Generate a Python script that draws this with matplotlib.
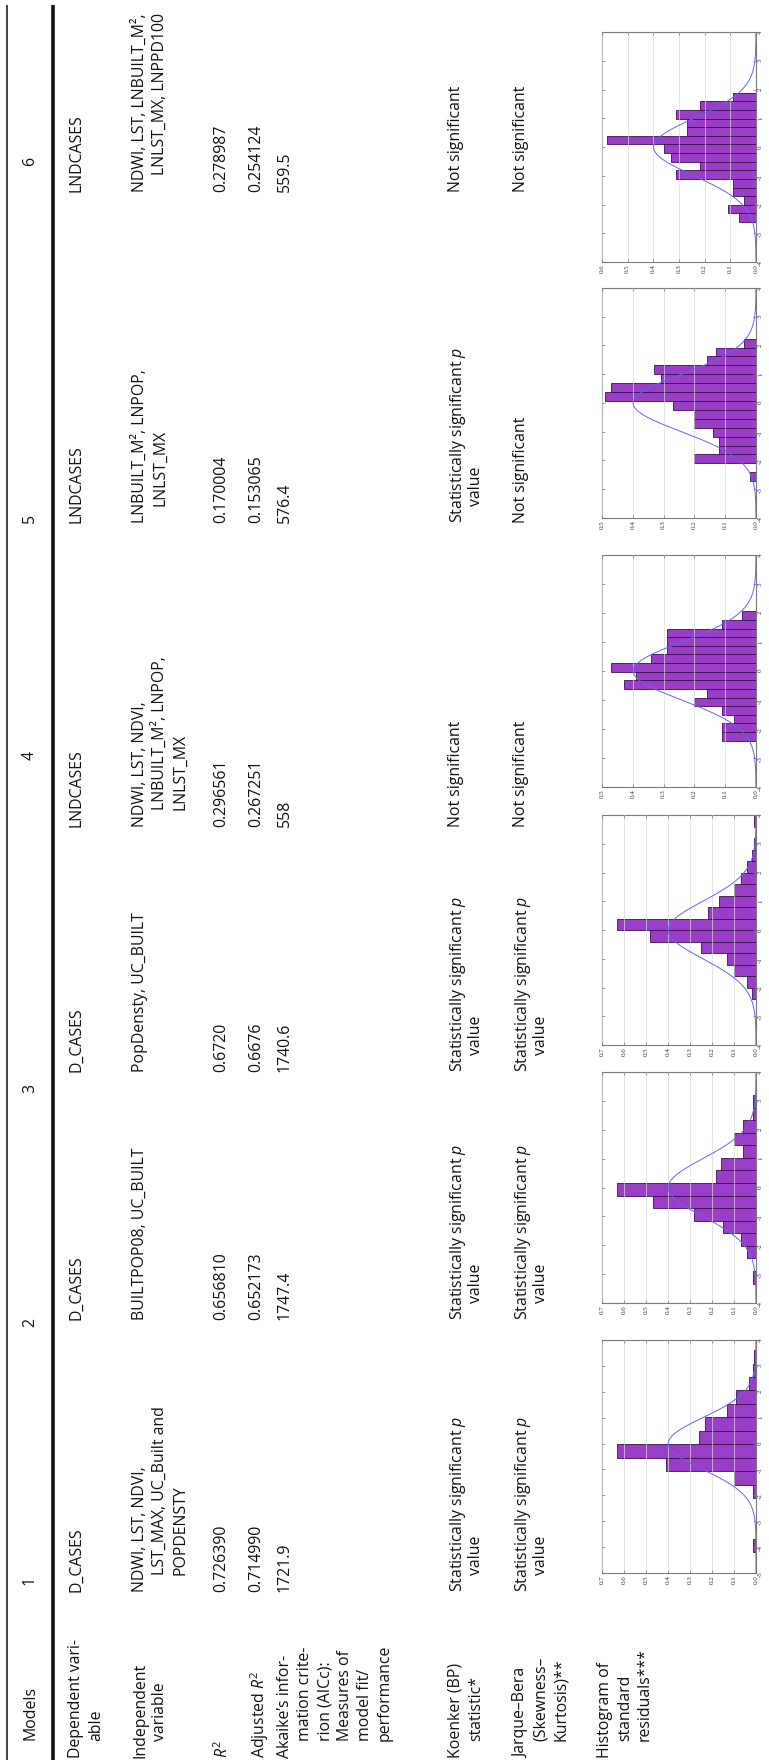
import numpy as np
import matplotlib.pyplot as plt

plt.rcParams['font.family'] = ['Open Sans', 'DejaVu Sans']
plt.rcParams['mathtext.fontset'] = 'custom'
plt.rcParams['mathtext.rm'] = 'Open Sans'
plt.rcParams['mathtext.it'] = 'Open Sans:italic'

W, H = 769, 1760
FS = 11.4

# table content, one entry per model
models = ['1', '2', '3', '4', '5', '6']
dependent = ['D_CASES', 'D_CASES', 'D_CASES', 'LNDCASES', 'LNDCASES', 'LNDCASES']
independent = [
    ['NDWI, LST, NDVI,', 'LST_MAX, UC_Built and', 'POPDENSTY'],
    ['BUILTPOP08, UC_BUILT'],
    ['PopDensty, UC_BUILT'],
    ['NDWI, LST, NDVI,', 'LNBUILT_M², LNPOP,', 'LNLST_MX'],
    ['LNBUILT_M², LNPOP,', 'LNLST_MX'],
    ['NDWI, LST, LNBUILT_M²,', 'LNLST_MX, LNPPD100'],
]
r2 = ['0.726390', '0.656810', '0.6720', '0.296561', '0.170004', '0.278987']
adj_r2 = ['0.714990', '0.652173', '0.6676', '0.267251', '0.153065', '0.254124']
aicc = ['1721.9', '1747.4', '1740.6', '558', '576.4', '559.5']
SIG = ['Statistically significant $p$', 'value']
NOT = ['Not significant']
koenker = [SIG, SIG, SIG, NOT, SIG, NOT]
jarque = [SIG, SIG, SIG, NOT, NOT, NOT]

row_labels = [
    ['Models'],
    ['Dependent vari-', 'able'],
    ['Independent', 'variable'],
    ['$R^2$'],
    ['Adjusted $R^2$'],
    ['Akaike’s infor-', 'mation crite-', 'rion (AICc):', 'Measures of',
     'model fit/', 'performance'],
    ['Koenker (BP)', 'statistic*'],
    ['Jarque–Bera', '(Skewness–', 'Kurtosis)**'],
    ['Histogram of', 'standard', 'residuals***'],
]

# standardised residual histograms: first bin edge, bin width, densities
hist_lo = [-4.19, -3.325, -3.2, -2.4, -2.72, -2.61]
hist_w = [0.52, 0.435, 0.4, 0.297, 0.31, 0.30]
hist_dens = [
    [0.015, 0, 0, 0, 0.012, 0.10, 0.41, 0.63, 0.26, 0.23, 0.13, 0.09, 0.03, 0.012, 0.01],
    [0.015, 0, 0.04, 0.07, 0.15, 0.28, 0.47, 0.63, 0.18, 0.16, 0.06, 0.10, 0.06, 0.015, 0.015],
    [0, 0, 0.02, 0.04, 0.10, 0.13, 0.25, 0.48, 0.63, 0.22, 0.17, 0.10, 0.07, 0.04, 0.02, 0.01, 0, 0.01],
    [0.11, 0.11, 0.07, 0.11, 0.20, 0.16, 0.43, 0.39, 0.47, 0.34, 0.29, 0.29, 0.29, 0.11, 0.045],
    [0.02, 0, 0.20, 0.12, 0.12, 0.14, 0.20, 0.20, 0.27, 0.49, 0.47, 0.31, 0.33, 0.16, 0.13, 0.04],
    [0.065, 0.11, 0.045, 0.09, 0.09, 0.31, 0.22, 0.33, 0.36, 0.58, 0.27, 0.27, 0.31, 0.22, 0.09],
]
hist_vmin = [-5, -4, -4, -4, -4, -4]
hist_vmax = [4, 4, 4, 4, 4, 4]
hist_dmax = [0.7, 0.7, 0.7, 0.5, 0.5, 0.6]

# layout (pixels): the table is printed turned a quarter turn
col_start = [1592, 1320, 1072, 827, 523, 192]
head_start = [1585, 1327, 1093, 760, 523, 166]
row_x = [22, 68, 132, 213, 248, 277, 448, 513, 597]
GAP, INDENT = 20, 17
hist_box = [(1340, 1573), (1072, 1303), (815, 1045), (555, 787), (288, 518), (32, 262)]
HX0, HX1 = 602, 756

fig = plt.figure(figsize=(W / 100, H / 100), dpi=100)
ax = fig.add_axes([0, 0, 1, 1])
ax.set_xlim(0, W)
ax.set_ylim(H, 0)
ax.axis('off')


def put(x, y, lines):
    for i, s in enumerate(lines):
        ax.text(x + i * GAP, y - (INDENT if i else 0), s, rotation=90,
                rotation_mode='anchor', ha='left', va='top', fontsize=FS,
                color='#111111')


# rules above and below the header row
ax.plot([7, 7], [5, H], color='#222222', lw=1.2, solid_capstyle='butt')
ax.plot([53, 53], [5, H], color='#111111', lw=2.6, solid_capstyle='butt')

# row labels
for r, lab in enumerate(row_labels):
    put(row_x[r], 1740 if r == 0 else 1758, lab)

cells = [None, dependent, independent, r2, adj_r2, aicc, koenker, jarque]
for c in range(6):
    put(row_x[0], head_start[c], [models[c]])
    for r in range(1, 8):
        val = cells[r][c]
        put(row_x[r], col_start[c], val if isinstance(val, list) else [val])

# histograms with the standard normal curve
for k in range(6):
    yt, yb = hist_box[k]
    axh = fig.add_axes([HX0 / W, 1 - yb / H, (HX1 - HX0) / W, (yb - yt) / H])
    dens = hist_dens[k]
    edges = hist_lo[k] + hist_w[k] * np.arange(len(dens))
    axh.barh(edges, dens, height=hist_w[k], align='edge', color='#9a3ec8',
             edgecolor='#3b0f4f', linewidth=0.6, zorder=1)
    v = np.linspace(hist_vmin[k], hist_vmax[k], 400)
    axh.plot(np.exp(-v ** 2 / 2) / np.sqrt(2 * np.pi), v, color='#6464f0',
             lw=0.7, zorder=3)
    axh.set_xlim(hist_dmax[k], 0)
    axh.set_ylim(hist_vmin[k], hist_vmax[k])
    xt = np.round(np.arange(0, hist_dmax[k] + 0.001, 0.1), 1)
    axh.set_xticks(xt)
    axh.set_xticklabels([f'{t:.1f}' for t in xt], rotation=90,
                        fontsize=5, family='Liberation Serif')
    yt_ = list(range(hist_vmin[k], hist_vmax[k] + 1))
    axh.set_yticks(yt_)
    axh.set_yticklabels([str(t) for t in yt_], rotation=90,
                        fontsize=5, family='Liberation Serif')
    axh.yaxis.tick_right()
    axh.tick_params(direction='in', length=2.5, width=0.5, color='#777777',
                    pad=1.5, top=True, bottom=True, left=True, right=True,
                    labelcolor='#333333')
    axh.grid(axis='x', color='#d9d9d9', lw=0.6, alpha=0.8, zorder=2)
    axh.set_axisbelow(False)
    for sp in axh.spines.values():
        sp.set_color('#7a7a7a')
        sp.set_linewidth(0.8)

fig.savefig('out.png', dpi=100)
